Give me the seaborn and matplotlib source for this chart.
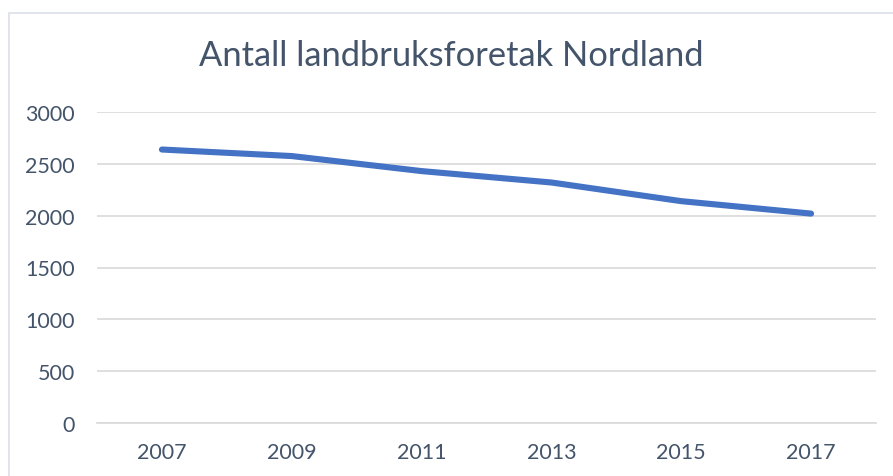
import matplotlib
matplotlib.use("Agg")
import matplotlib.pyplot as plt
import seaborn as sns
from matplotlib.patches import Rectangle

# data
years = ["2007", "2009", "2011", "2013", "2015", "2017"]
farms = [2638, 2575, 2430, 2320, 2140, 2020]
y_ticks = [0, 500, 1000, 1500, 2000, 2500, 3000]

TEXT = "#44546A"
GRID = "#D9D9D9"
LINE = "#4472C4"

sns.set_style("white")
plt.rcParams["font.family"] = ["Lato", "DejaVu Sans"]

fig = plt.figure(figsize=(8.93, 4.77), dpi=100)
ax = fig.add_axes([97 / 893, 1 - 424 / 477, (876 - 97) / 893, (424 - 113) / 477])

pos = list(range(len(years)))
sns.lineplot(x=pos, y=farms, color=LINE, linewidth=4.4, ax=ax,
             solid_capstyle="round", solid_joinstyle="round")

ax.set_xlim(-0.5, len(years) - 0.5)
ax.set_ylim(0, 3000)
ax.set_yticks(y_ticks)
ax.set_yticklabels([str(v) for v in y_ticks])
ax.set_xticks(pos)
ax.set_xticklabels(years)
ax.yaxis.grid(True, color=GRID, linewidth=1.2)
ax.set_axisbelow(True)

for s in ["top", "right", "left"]:
    ax.spines[s].set_visible(False)
ax.spines["bottom"].set_color(GRID)
ax.spines["bottom"].set_linewidth(1.2)

ax.tick_params(axis="y", length=0, pad=16, labelsize=15.5, labelcolor=TEXT)
ax.tick_params(axis="x", length=0, pad=14, labelsize=15.5, labelcolor=TEXT)

# category boundary tick marks below the axis
ax.set_xticks([p - 0.5 for p in pos] + [len(years) - 0.5], minor=True)
ax.tick_params(axis="x", which="minor", length=7, width=1.2, color=GRID, direction="out")

fig.text(451 / 893, 1 - 56 / 477, "Antall landbruksforetak Nordland",
         ha="center", va="center", fontsize=24.8, color=TEXT)

# chart area border
fig.patches.append(Rectangle((8.5 / 893, -0.1), 1.2, 1.1 - 13.5 / 477,
                             transform=fig.transFigure, fill=False,
                             edgecolor="#DEE2E8", linewidth=1.3))

fig.savefig("out.png", dpi=100)
